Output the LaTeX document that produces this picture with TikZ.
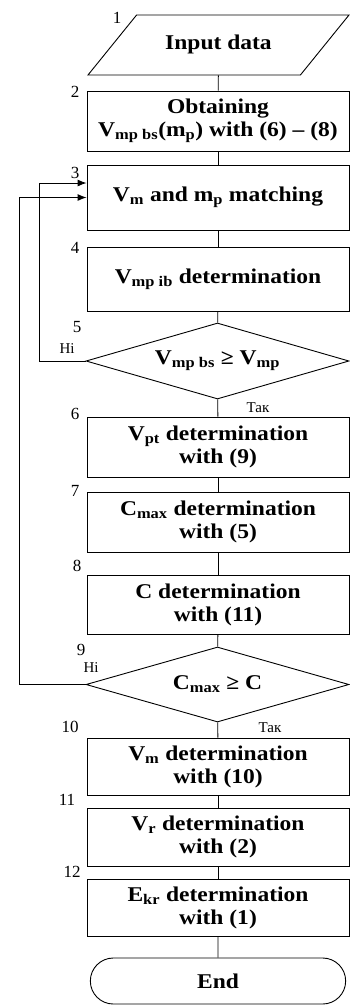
\documentclass[tikz,border=0pt]{standalone}
\usepackage{fontspec}
\setmainfont{Liberation Serif}
\newfontfamily\boxfont[FakeStretch=1.12]{Liberation Serif}
\usetikzlibrary{shapes.geometric,shapes.misc,arrows.meta}
\newcommand{\sbs}[1]{\textsubscript{#1}}

\begin{document}
\begin{tikzpicture}[x=1pt,y=1pt,yscale=-1,
    every path/.style={line width=0.9pt},
    txt/.style={align=center,font=\boxfont\bfseries\fontsize{21}{23}\selectfont},
    blk/.style={draw,rectangle,txt,minimum width=262pt,inner sep=1pt},
    iobox/.style={draw,trapezium,txt,trapezium left angle=51,trapezium right angle=129,
        trapezium stretches body,text height=14pt,text depth=5pt,inner ysep=20.5pt,
        minimum width=261pt,minimum height=60pt},
    cond/.style={draw,diamond,txt,aspect=3.46,minimum width=263pt,minimum height=76pt,inner sep=0pt},
    term/.style={draw,rounded rectangle,txt,minimum width=262pt,minimum height=46pt},
    num/.style={font=\fontsize{17}{17}\selectfont,inner sep=0pt},
    ans/.style={font=\fontsize{15}{15}\selectfont,inner sep=0pt},
    arr/.style={-{Latex[length=9pt,width=7pt]}}]
  \useasboundingbox (0,0) rectangle (350,1005);

  \node[iobox] (inp) at (218.5,45) {Input data};
  \node[blk,minimum height=60pt] (obt) at (218,121) {Obtaining\\V\sbs{mp bs}(m\sbs{p}) with (6) – (8)};
  \node[blk,minimum height=65pt] (match) at (218,197.5) {V\sbs{m} and m\sbs{p} matching};
  \node[blk,minimum height=64pt] (vib) at (218,279) {V\sbs{mp ib} determination};
  \node[cond] (cnd1) at (217.5,361) {V\sbs{mp bs} ≥ V\sbs{mp}};
  \node[blk,minimum height=60pt] (vpt) at (218,447) {V\sbs{pt} determination\\with (9)};
  \node[blk,minimum height=60pt] (cmax) at (218,522) {C\sbs{max} determination\\with (5)};
  \node[blk,minimum height=59pt] (cdet) at (218,604.5) {C determination\\with (11)};
  \node[cond,minimum height=75pt] (cnd2) at (217.5,684.5) {C\sbs{max} ≥ C};
  \node[blk,minimum height=57pt] (vm) at (218,766.5) {V\sbs{m} determination\\with (10)};
  \node[blk,minimum height=58pt] (vr) at (218,837) {V\sbs{r} determination\\with (2)};
  \node[blk,minimum height=57pt] (ekr) at (218,907.5) {E\sbs{kr} determination\\with (1)};
  \node[term] (fin) at (218,981) {End};

  \node[num] (n1) at (117,18) {1};
  \node[num] (n2) at (75,92) {2};
  \node[num] (n3) at (75,173) {3};
  \node[num] (n4) at (75,248) {4};
  \node[num] (n5) at (77,327) {5};
  \node[num] (n6) at (75,414) {6};
  \node[num] (n7) at (75,491) {7};
  \node[num] (n8) at (77,566) {8};
  \node[num] (n9) at (81,650) {9};
  \node[num] (n10) at (70,727) {10};
  \node[num] (n11) at (67,800) {11};
  \node[num] (n12) at (72,872) {12};
  \node[ans] (no1) at (67,349) {Ні};
  \node[ans] (yes1) at (258,408) {Так};
  \node[ans] (no2) at (91,668) {Ні};
  \node[ans] (yes2) at (270,728) {Так};

  \draw (inp) -- (obt);
  \draw (obt) -- (match);
  \draw (match) -- (vib);
  \draw (vib) -- (cnd1);
  \draw (cnd1) -- (vpt);
  \draw (vpt) -- (cmax);
  \draw (cmax) -- (cdet);
  \draw (cdet) -- (cnd2);
  \draw (cnd2) -- (vm);
  \draw (vm) -- (vr);
  \draw (vr) -- (ekr);
  \draw (ekr) -- (fin);
  \draw[arr] (cnd1.west) -- ++(-46,0) |- ([yshift=-14.5pt]match.west);
  \draw[arr] (cnd2.west) -- ++(-66,0) |- (match.west);
\end{tikzpicture}
\end{document}
